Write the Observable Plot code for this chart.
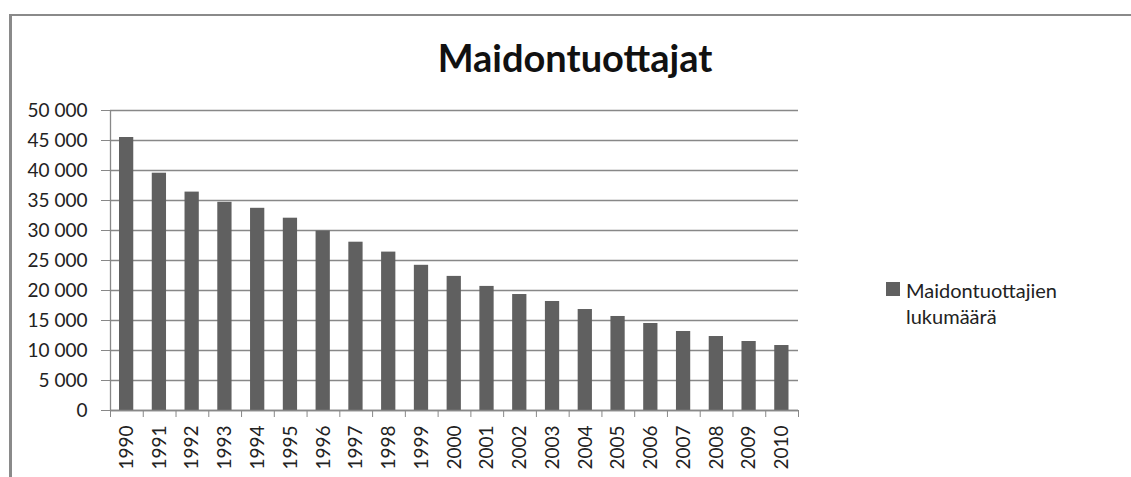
<!DOCTYPE html>
<html>
<head>
<meta charset="utf-8">
<script src="https://cdn.jsdelivr.net/npm/d3@7"></script>
<script src="https://cdn.jsdelivr.net/npm/@observablehq/plot@0.6"></script>
<style>
  html, body { margin: 0; padding: 0; background: #fff; overflow: hidden; }
  body { width: 1131px; height: 477px; position: relative; font-family: Lato, "Open Sans", sans-serif; }
  #frame { position: absolute; left: 9px; top: 14px; width: 1200px; height: 600px;
           border-left: 3px solid #8a8a8a; border-top: 2px solid #8a8a8a; }
  #title { position: absolute; left: 0; top: 38px; width: 1150px; text-align: center;
           font-size: 38px; font-weight: bold; line-height: 1; color: #111; }
  #chart { position: absolute; left: 0; top: 0; }
  #legend { position: absolute; left: 886px; top: 277px; font-size: 20px; line-height: 26px; color: #222; }
  #legend .sw { position: absolute; left: 0; top: 5px; width: 14px; height: 14px; background: #606060; }
  #legend .tx { position: absolute; left: 20px; top: 0; white-space: nowrap; }
</style>
</head>
<body>
<div id="frame"></div>
<div id="title">Maidontuottajat</div>
<div id="chart"></div>
<div id="legend"><div class="sw"></div><div class="tx">Maidontuottajien<br>lukumäärä</div></div>
<script>
const years = [1990, 1991, 1992, 1993, 1994, 1995, 1996, 1997, 1998, 1999, 2000,
               2001, 2002, 2003, 2004, 2005, 2006, 2007, 2008, 2009, 2010];
const producers = [45500, 39550, 36400, 34700, 33700, 32050, 29900, 28050, 26400, 24200, 22350,
                   20680, 19330, 18170, 16830, 15670, 14500, 13170, 12330, 11500, 10830];
const yTicks = [0, 5000, 10000, 15000, 20000, 25000, 30000, 35000, 40000, 45000, 50000];

const data = years.map((y, i) => ({year: y, value: producers[i]}));
const boundaries = years.map(y => y - 0.5).concat([years[years.length - 1] + 0.5]);
const fmt = v => d3.format(",")(v).replace(/,/g, " ");

const chart = Plot.plot({
  width: 1131,
  height: 477,
  marginLeft: 110,
  marginRight: 333,
  marginTop: 110,
  marginBottom: 67,
  style: {fontFamily: "Lato, 'Open Sans', sans-serif", fontSize: "19px", color: "#222", background: "transparent"},
  x: {domain: [years[0] - 0.5, years[years.length - 1] + 0.5]},
  y: {domain: [0, 50000]},
  marks: [
    Plot.gridY(yTicks, {stroke: "#888", strokeOpacity: 1, strokeWidth: 1.3}),
    Plot.rectY(data, {x1: d => d.year - 0.5, x2: d => d.year + 0.5, y: "value", fill: "#606060", insetLeft: 9, insetRight: 9.5}),
    Plot.axisY({ticks: yTicks, tickFormat: fmt, tickSize: 9, tickPadding: 14, stroke: "#888", label: null, fontSize: 19}),
    Plot.axisX({ticks: boundaries, tickFormat: () => "", tickSize: 7, stroke: "#888", label: null}),
    Plot.axisX({ticks: years, tickFormat: d => String(d), tickSize: 0, tickPadding: 15, tickRotate: -90, label: null, fontSize: 19}),
    Plot.ruleY([0], {stroke: "#888", strokeWidth: 1.3}),
    Plot.ruleX([years[0] - 0.5], {stroke: "#888", strokeWidth: 1.3})
  ]
});
document.getElementById("chart").appendChild(chart);
</script>
</body>
</html>
